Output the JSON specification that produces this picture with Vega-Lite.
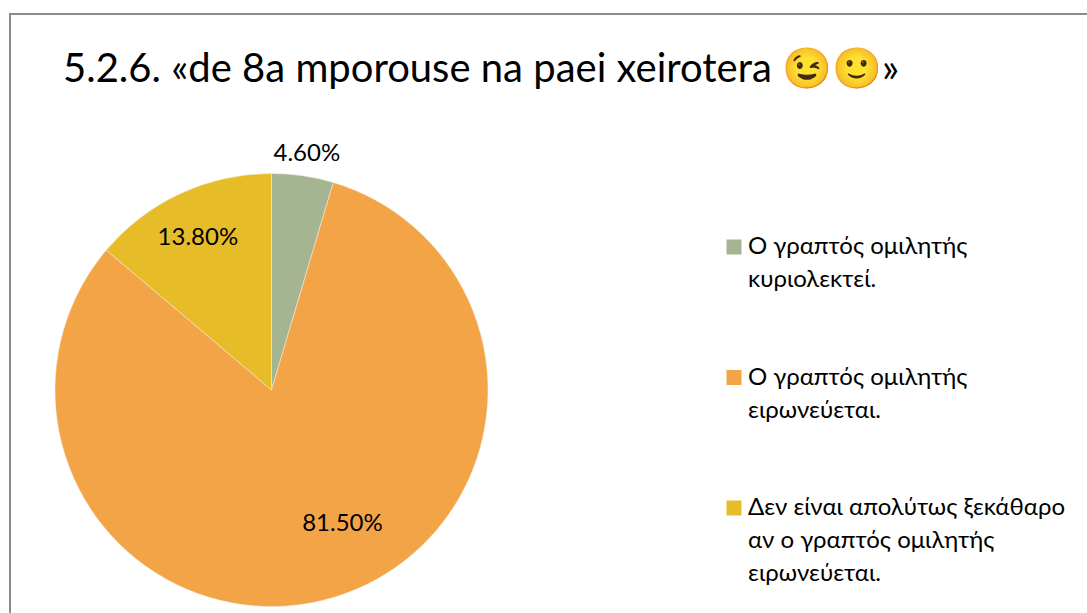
{"$schema":"https://vega.github.io/schema/vega-lite/v6.json","width":1078,"height":600,"padding":{"left":10,"top":14,"right":0,"bottom":0},"autosize":{"type":"none"},"background":"white","view":{"stroke":"#8c8c8c","strokeWidth":2,"fill":"white"},"config":{"style":{"guide-label":{"lineHeight":33}}},"title":{"text":"5.2.6. «de 8a mporouse na paei xeirotera 😉🙂»","anchor":"start","frame":"group","font":"Lato","fontSize":40,"fontWeight":"normal","color":"#000000","dx":53,"dy":108,"baseline":"alphabetic","offset":0},"data":{"values":[{"category":"Ο γραπτός ομιλητής\nκυριολεκτεί.","share":0.046},{"category":"Ο γραπτός ομιλητής\nειρωνεύεται.","share":0.815},{"category":"Δεν είναι απολύτως ξεκάθαρο\nαν ο γραπτός ομιλητής\nειρωνεύεται.","share":0.138}]},"transform":[{"window":[{"op":"row_number","as":"order"}]},{"stack":"share","groupby":[],"sort":[{"field":"order"}],"as":["start","end"]},{"calculate":"(datum.start+datum.end)/2","as":"mid"}],"layer":[{"mark":{"type":"arc","outerRadius":216.5,"stroke":"#f4efe6","strokeWidth":0.5},"encoding":{"x":{"value":261.5},"y":{"value":376},"theta":{"field":"start","type":"quantitative","scale":{"domain":[0,0.999]},"stack":false},"theta2":{"field":"end"},"color":{"field":"category","type":"nominal","sort":null,"scale":{"domain":["Ο γραπτός ομιλητής\nκυριολεκτεί.","Ο γραπτός ομιλητής\nειρωνεύεται.","Δεν είναι απολύτως ξεκάθαρο\nαν ο γραπτός ομιλητής\nειρωνεύεται."],"range":["#A5B592","#F3A447","#E7BC29"]},"legend":{"title":null,"orient":"none","legendX":712,"legendY":221,"symbolType":"square","symbolSize":225,"symbolOpacity":1,"symbolStrokeWidth":0,"labelFont":"Lato","labelFontSize":24,"labelColor":"#000000","labelLimit":400,"labelOffset":2,"rowPadding":73.5,"labelExpr":"split(datum.label,'\\n')"}}}},{"mark":{"type":"text","font":"Lato","fontSize":24,"color":"#000000","radius":238,"dx":1},"transform":[{"filter":"datum.share<0.1"}],"encoding":{"x":{"value":261.5},"y":{"value":376},"theta":{"field":"mid","type":"quantitative","scale":{"domain":[0,0.999]},"stack":false},"text":{"field":"share","type":"quantitative","format":".2%"}}},{"mark":{"type":"text","font":"Lato","fontSize":24,"color":"#000000","radius":168,"dx":-3},"transform":[{"filter":"datum.share>0.1&&datum.share<0.2"}],"encoding":{"x":{"value":261.5},"y":{"value":376},"theta":{"field":"mid","type":"quantitative","scale":{"domain":[0,0.999]},"stack":false},"text":{"field":"share","type":"quantitative","format":".2%"}}},{"mark":{"type":"text","font":"Lato","fontSize":24,"color":"#000000","radius":140,"dx":31},"transform":[{"filter":"datum.share>0.5"}],"encoding":{"x":{"value":261.5},"y":{"value":376},"theta":{"field":"mid","type":"quantitative","scale":{"domain":[0,0.999]},"stack":false},"text":{"field":"share","type":"quantitative","format":".2%"}}}]}
